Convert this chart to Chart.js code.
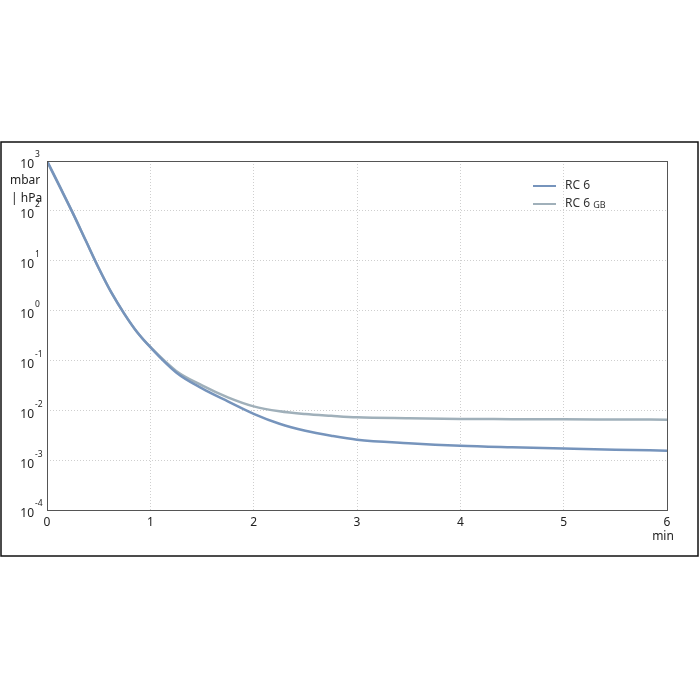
<!DOCTYPE html>
<html>
<head>
<meta charset="utf-8">
<script src="https://cdn.jsdelivr.net/npm/chart.js@4.4.0/dist/chart.umd.min.js"></script>
<style>
  html, body { margin: 0; padding: 0; background: #fff; }
  #wrap { width: 700px; height: 700px; }
</style>
</head>
<body>
<div id="wrap"><canvas id="pump-chart" width="700" height="700"></canvas></div>
<script>
// time in min
var times = [0, 0.125, 0.25, 0.375, 0.5, 0.625, 0.75, 0.875, 1, 1.25, 1.5, 1.75, 2, 2.25, 2.5, 2.75, 3, 3.5, 4, 4.5, 5, 5.5, 6];
// pressure in mbar
var rc6 = [1000, 302, 90.2, 25.4, 7.16, 2.26, 0.851, 0.363, 0.184, 0.0575, 0.0275, 0.0151, 0.00851, 0.00537, 0.00389, 0.00309, 0.00257, 0.00219, 0.00195, 0.00182, 0.00172, 0.00162, 0.00155];
var rc6gb = [1000, 302, 90.2, 25.4, 7.16, 2.26, 0.851, 0.363, 0.186, 0.0617, 0.0316, 0.0182, 0.0120, 0.00955, 0.00841, 0.00776, 0.00724, 0.00692, 0.00670, 0.00664, 0.00658, 0.00653, 0.00649];
var yTicks = [1e-4, 1e-3, 1e-2, 1e-1, 1e0, 1e1, 1e2, 1e3];
var yExp = ['-4', '-3', '-2', '-1', '0', '1', '2', '3'];
var xTicks = [0, 1, 2, 3, 4, 5, 6];

function pts(vals) {
    return times.map(function (t, i) { return { x: t, y: vals[i] }; });
}

var FONT = '"Noto Sans", "Open Sans", sans-serif';

var decor = {
    id: 'decor',
    beforeDraw: function (chart) {
        var ctx = chart.ctx;
        ctx.save();
        ctx.strokeStyle = '#111';
        ctx.lineWidth = 1.5;
        ctx.strokeRect(1, 142, 697, 414);
        ctx.restore();
    },
    afterDraw: function (chart) {
        var ctx = chart.ctx;
        var a = chart.chartArea;
        var y = chart.scales.y;
        var x = chart.scales.x;
        ctx.save();
        // plot border
        ctx.strokeStyle = '#555';
        ctx.lineWidth = 1;
        ctx.strokeRect(a.left + 0.5, a.top + 0.5, a.right - a.left, a.bottom - a.top);

        // y tick labels 10^n
        ctx.fillStyle = '#222';
        ctx.textBaseline = 'middle';
        for (var i = 0; i < yTicks.length; i++) {
            var py = y.getPixelForValue(yTicks[i]);
            ctx.font = '12px ' + FONT;
            ctx.textAlign = 'right';
            ctx.fillText('10', 34, py + 4);
            ctx.font = '8.5px ' + FONT;
            ctx.textAlign = 'left';
            ctx.fillText(yExp[i], 35, py - 6);
        }

        // units
        ctx.font = '12px ' + FONT;
        ctx.textAlign = 'left';
        ctx.fillText('mbar', 10, 181);
        ctx.fillText('| hPa', 11, 199);
        ctx.textAlign = 'center';
        ctx.fillText('min', x.getPixelForValue(6) - 4, 537);

        // legend
        var lx = 533, ly = [186, 204];
        chart.data.datasets.forEach(function (ds, k) {
            ctx.strokeStyle = ds.borderColor;
            ctx.lineWidth = 2;
            ctx.beginPath();
            ctx.moveTo(lx, ly[k]);
            ctx.lineTo(lx + 23, ly[k]);
            ctx.stroke();
            ctx.fillStyle = '#333';
            ctx.textAlign = 'left';
            ctx.font = '12px ' + FONT;
            ctx.fillText('RC 6', lx + 32, ly[k]);
            if (k == 1) {
                var w = ctx.measureText('RC 6 ').width;
                ctx.font = '9px ' + FONT;
                ctx.fillText('GB', lx + 32 + w, ly[k] + 1);
            }
        });
        ctx.restore();
    }
};

var ctx = document.getElementById('pump-chart').getContext('2d');

var pumpChart = new Chart(ctx, {
    type: 'line',
    data: {
        datasets: [{
            label: 'RC 6',
            data: pts(rc6),
            borderColor: 'rgb(118, 148, 188)',
            borderWidth: 2.5,
            pointRadius: 0,
            fill: false,
            cubicInterpolationMode: 'monotone'
        }, {
            label: 'RC 6 GB',
            data: pts(rc6gb),
            borderColor: 'rgb(160, 176, 186)',
            borderWidth: 2.5,
            pointRadius: 0,
            fill: false,
            cubicInterpolationMode: 'monotone'
        }]
    },
    options: {
        responsive: false,
        animation: false,
        layout: {
            padding: { left: 0, top: 161, right: 33, bottom: 160 }
        },
        plugins: {
            legend: { display: false },
            tooltip: { enabled: false }
        },
        scales: {
            x: {
                type: 'linear',
                min: 0,
                max: 6,
                afterBuildTicks: function (s) {
                    s.ticks = xTicks.map(function (v) { return { value: v }; });
                },
                afterFit: function (s) { s.height = 30; },
                border: { display: false, dash: [1, 2] },
                grid: {
                    color: '#cfcfcf',
                    lineWidth: 1,
                    drawTicks: false
                },
                ticks: {
                    color: '#222',
                    font: { size: 12, family: FONT },
                    padding: 5,
                    maxRotation: 0
                }
            },
            y: {
                type: 'logarithmic',
                min: 1e-4,
                max: 1e3,
                afterBuildTicks: function (s) {
                    s.ticks = yTicks.map(function (v) { return { value: v }; });
                },
                afterFit: function (s) { s.width = 47; },
                border: { display: false, dash: [1, 2] },
                grid: {
                    color: '#cfcfcf',
                    lineWidth: 1,
                    drawTicks: false
                },
                ticks: { display: false }
            }
        }
    },
    plugins: [decor]
});
</script>
</body>
</html>
